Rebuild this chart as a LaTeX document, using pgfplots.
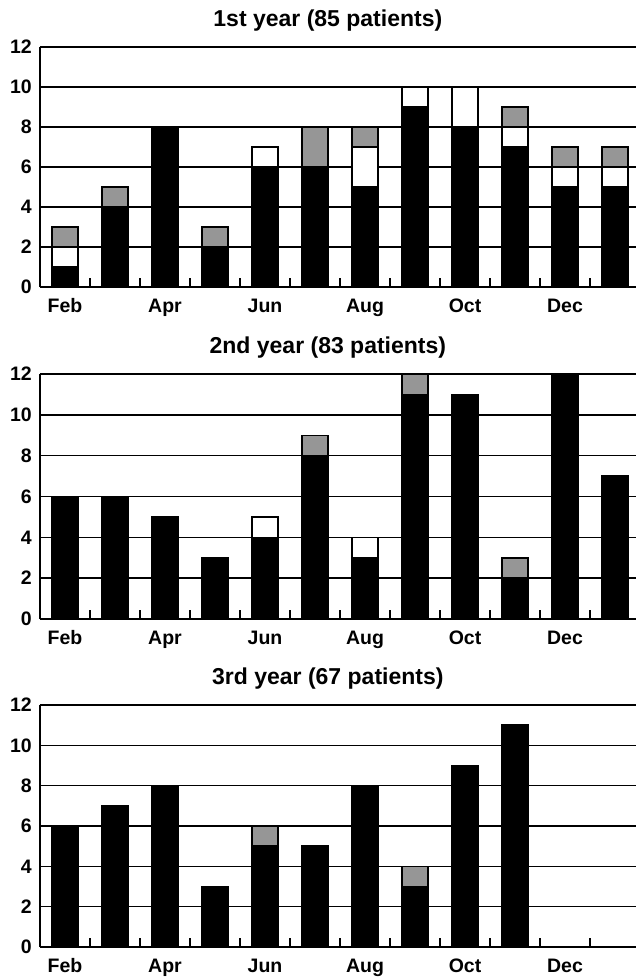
\documentclass[border=0pt]{standalone}
\usepackage{fontspec}
\setmainfont{Liberation Sans}
\usepackage{pgfplots}
\usepackage{pgfplotstable}
\pgfplotsset{compat=1.18}
\definecolor{barg}{RGB}{150,150,150}

\pgfplotstableread{
x b w g
0 1 1 1
1 4 0 1
2 8 0 0
3 2 0 1
4 6 1 0
5 6 0 2
6 5 2 1
7 9 1 0
8 8 2 0
9 7 1 1
10 5 1 1
11 5 1 1
}\yone
\pgfplotstableread{
x b w g
0 6 0 0
1 6 0 0
2 5 0 0
3 3 0 0
4 4 1 0
5 8 0 1
6 3 1 0
7 11 0 1
8 11 0 0
9 2 0 1
10 12 0 0
11 7 0 0
}\ytwo
\pgfplotstableread{
x b w g
0 6 0 0
1 7 0 0
2 8 0 0
3 3 0 0
4 5 0 1
5 5 0 0
6 8 0 0
7 3 0 1
8 9 0 0
9 11 0 0
10 0 0 0
11 0 0 0
}\ythree

\pgfplotsset{
 panel/.style={
  scale only axis, width=596pt, anchor=south west,
  xmin=-0.5, xmax=11.42, ymin=0, ymax=12,
  axis lines*=left,
  axis line style={line width=2pt, black},
  ybar stacked, bar width=0.52,
  ytick={0,2,...,12},
  ymajorgrids, grid style={black, line width=1.6pt},
  xtick={0,2,4,6,8,10},
  xticklabels={Feb,Apr,Jun,Aug,Oct,Dec},
  minor xtick={0.5,1.5,...,10.5},
  major tick length=0pt,
  minor tick length=9pt,
  tick align=inside,
  minor tick style={line width=1.4pt, black},
  /pgf/number format/assume math mode=true,
  ticklabel style={font=\fontsize{19.5}{19.5}\selectfont\bfseries},
  xticklabel style={anchor=base, yshift=-25pt},
  yticklabel style={anchor=east, inner sep=0pt, xshift=-8pt},
  title style={font=\fontsize{23}{23}\selectfont\bfseries, at={(rel axis cs:0.483,1)}, anchor=base, yshift=15pt},
  every axis plot/.append style={draw=black, line width=1.5pt},
 }
}

\begin{document}
\begin{tikzpicture}
\useasboundingbox (0pt,0pt) rectangle (636pt,-980pt);
\begin{axis}[panel, height=240pt, at={(40pt,-287pt)}, title={1st year (85 patients)}]
\addplot[fill=black] table[x=x,y=b]{\yone};
\addplot[fill=white] table[x=x,y=w]{\yone};
\addplot[fill=barg] table[x=x,y=g]{\yone};
\end{axis}
\begin{axis}[panel, height=245pt, at={(40pt,-619pt)}, title={2nd year (83 patients)}]
\addplot[fill=black] table[x=x,y=b]{\ytwo};
\addplot[fill=white] table[x=x,y=w]{\ytwo};
\addplot[fill=barg] table[x=x,y=g]{\ytwo};
\end{axis}
\begin{axis}[panel, height=242pt, at={(40pt,-947pt)}, title={3rd year (67 patients)}]
\addplot[fill=black] table[x=x,y=b]{\ythree};
\addplot[fill=white] table[x=x,y=w]{\ythree};
\addplot[fill=barg] table[x=x,y=g]{\ythree};
\end{axis}
\end{tikzpicture}
\end{document}
